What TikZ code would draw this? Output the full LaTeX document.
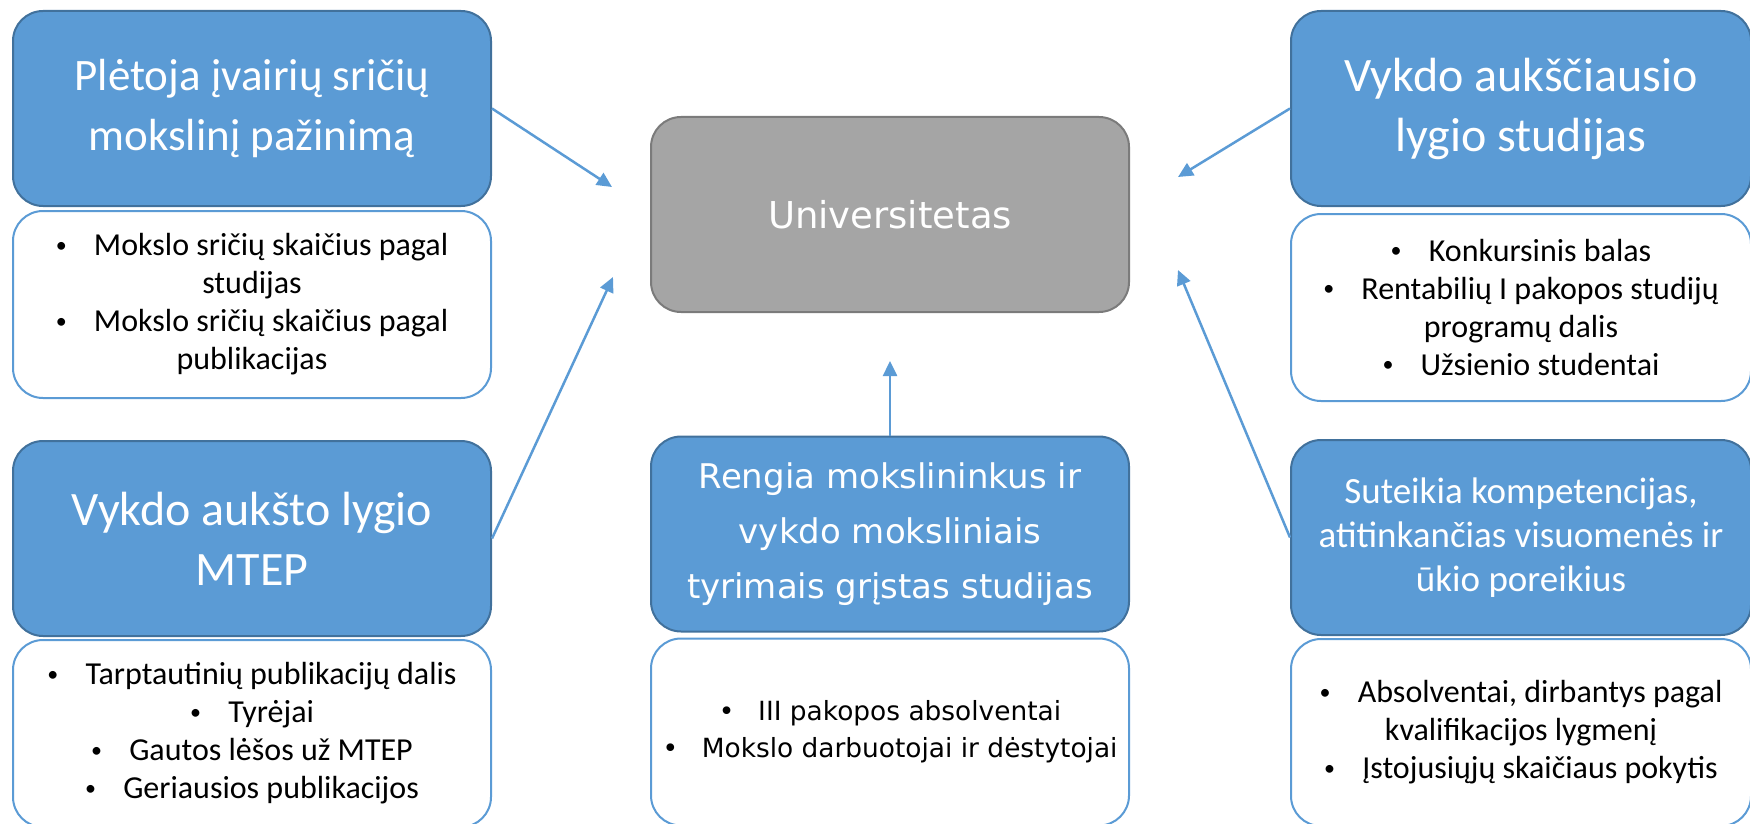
\documentclass[tikz,border=0pt]{standalone}
\usepackage{fontspec}
\setmainfont{Carlito}
\newfontfamily\wideface{DejaVu Sans}
\usetikzlibrary{positioning,arrows.meta}

\definecolor{boxblue}{HTML}{5B9BD5}
\definecolor{boxedge}{HTML}{41719C}
\definecolor{hubgrey}{HTML}{A5A5A5}
\definecolor{hubedge}{HTML}{7B7B7B}

\newcommand{\blt}{\raisebox{0.12em}{\fontsize{11}{11}\selectfont\textbullet}\hspace{0.85em}}
\newcommand{\bltwide}{\textbullet\hspace{0.9em}}

\tikzset{
  title/.style={draw=boxedge, fill=boxblue, line width=1pt, rounded corners=15pt,
    minimum width=239pt, minimum height=97.5pt, text=white, align=center,
    font=\fontsize{24}{30}\selectfont},
  metric/.style={draw=boxblue, fill=white, line width=1pt, rounded corners=15pt,
    minimum width=239pt, minimum height=93.5pt, align=center,
    font=\fontsize{16}{19}\selectfont},
  hub/.style={draw=hubedge, fill=hubgrey, line width=1pt, rounded corners=15pt,
    minimum width=239pt, minimum height=97.5pt, text=white,
    font=\wideface\fontsize{18.5}{22}\selectfont},
  link/.style={draw=boxblue, line width=1.25pt, -{Triangle[length=7.5pt,width=7pt]}}
}

\begin{document}
\begin{tikzpicture}[x=0.5pt, y=-0.5pt]
  \useasboundingbox (0,0) rectangle (1750,824);

  % centre
  \node[hub] (univ) at (890,214.5) {Universitetas};

  % left column
  \node[title, font=\fontsize{22.5}{30}\selectfont] (know) at (252,108.5)
    {Plėtoja įvairių sričių\\mokslinį pažinimą};
  \node[metric, below=1.5pt of know] (knowlist)
    {\blt Mokslo sričių skaičius pagal\\studijas\\
     \blt Mokslo sričių skaičius pagal\\publikacijas};
  \node[title] (mtep) at (252,538.5) {Vykdo aukšto lygio\\MTEP};
  \node[metric, below=1pt of mtep] (mteplist)
    {\blt Tarptautinių publikacijų dalis\\\blt Tyrėjai\\
     \blt Gautos lėšos už MTEP\\\blt Geriausios publikacijos};

  % middle column
  \node[title, font=\wideface\fontsize{17}{27.5}\selectfont] (research) at (890,534)
    {Rengia mokslininkus ir\\vykdo moksliniais\\tyrimais grįstas studijas};
  \node[metric, below=2.5pt of research, font=\wideface\fontsize{13.2}{18.5}\selectfont] (researchlist)
    {\bltwide III pakopos absolventai\\\bltwide Mokslo darbuotojai ir dėstytojai};

  % right column
  \node[title, minimum width=230pt] (study) at (1521,108.5)
    {Vykdo aukščiausio\\lygio studijas};
  \node[metric, minimum width=230pt, below=3pt of study] (studylist)
    {\blt Konkursinis balas\\\blt Rentabilių I pakopos studijų\\
     programų dalis\\\blt Užsienio studentai};
  \node[title, minimum width=230pt, font=\fontsize{18.5}{22}\selectfont] (comp) at (1521,537.5)
    {Suteikia kompetencijas,\\atitinkančias visuomenės ir\\ūkio poreikius};
  \node[metric, minimum width=230pt, below=1pt of comp] (complist)
    {\blt Absolventai, dirbantys pagal\\kvalifikacijos lygmenį\\
     \blt Įstojusiųjų skaičiaus pokytis};

  % arrow tips around the hub
  \coordinate (tipknow) at (612,187);
  \coordinate (tipmtep) at (613,277);
  \coordinate (tipresearch) at (890,361);
  \coordinate (tipstudy) at (1178,177);
  \coordinate (tipcomp) at (1178,270);

  \draw[link] (know.east) -- (tipknow);
  \draw[link] (mtep.east) -- (tipmtep);
  \draw[link] (research.north) -- (tipresearch);
  \draw[link] (study.west) -- (tipstudy);
  \draw[link] (comp.west) -- (tipcomp);
\end{tikzpicture}
\end{document}
